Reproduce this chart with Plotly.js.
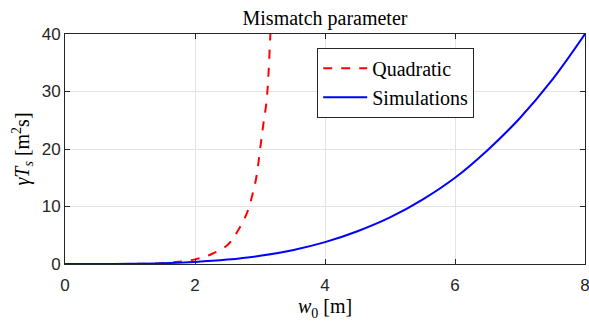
<!DOCTYPE html>
<html><head><meta charset="utf-8">
<script src="https://cdn.plot.ly/plotly-3.0.1.min.js"></script>
<style>html,body{margin:0;padding:0;background:#fff}#c{width:589px;height:322px}</style>
</head><body><div id="c"></div>
<script>
const quadX = [0, 0.5, 1, 1.5, 1.75, 2, 2.25, 2.5, 2.65, 2.8, 2.9, 2.95, 3.0, 3.05, 3.1, 3.13, 3.16, 3.19];
const quadY = [0, 0.002, 0.02, 0.15, 0.38, 0.8, 1.7, 3.3, 5.6, 8.9, 12.8, 15.5, 19.8, 24.2, 28.2, 33, 40, 46];
const simX = [0, 0.5, 1, 1.5, 2, 2.5, 3, 3.5, 4, 4.5, 5, 5.5, 6, 6.5, 7, 7.5, 8];
const simY = [0, 0.003, 0.034, 0.14, 0.36, 0.77, 1.42, 2.4, 3.8, 5.7, 8.1, 11.2, 15.0, 19.8, 25.4, 32.1, 40];
const xTicks = [0, 2, 4, 6, 8];
const yTicks = [0, 10, 20, 30, 40];

const serif = "Liberation Serif, Times New Roman, serif";
const sans = "Liberation Sans, Arial, sans-serif";

const traces = [
  {x: quadX, y: quadY, type: 'scatter', mode: 'lines', name: 'Quadratic',
   line: {color: '#ff0000', width: 2, dash: 'dash', shape: 'spline'}},
  {x: simX, y: simY, type: 'scatter', mode: 'lines', name: 'Simulations',
   line: {color: '#0000ff', width: 2, shape: 'spline'}}
];

const axisCommon = {
  showline: true, linecolor: '#262626', linewidth: 1, mirror: 'ticks',
  ticks: 'inside', ticklen: 5, tickcolor: '#262626',
  showgrid: true, gridcolor: '#e3e3e3', gridwidth: 1, zeroline: false,
  ticklabeloverflow: 'allow',
  tickfont: {family: sans, size: 17, color: '#262626'}
};

const layout = {
  width: 589, height: 322,
  margin: {l: 65, r: 4, t: 34, b: 58},
  paper_bgcolor: '#fff', plot_bgcolor: '#fff',
  title: {text: 'Mismatch parameter', font: {family: serif, size: 20, color: '#000'},
          x: 0.5, xref: 'paper', xanchor: 'center', y: 0.945, yanchor: 'middle'},
  xaxis: Object.assign({}, axisCommon, {range: [0, 8], tickvals: xTicks, ticktext: xTicks.map(String),
    ticklabelstandoff: 6,
    title: {text: '<i>w</i><sub>0</sub> [m]', font: {family: serif, size: 20, color: '#000'}, standoff: 4}}),
  yaxis: Object.assign({}, axisCommon, {range: [0, 40], tickvals: yTicks, ticktext: yTicks.map(String),
    title: {text: '<i>γT<sub>s</sub></i> [m<sup>2</sup>s]', font: {family: serif, size: 20, color: '#000'}, standoff: 6}}),
  legend: {x: 0.485, y: 0.94, xanchor: 'left', yanchor: 'top',
    bgcolor: '#fff', bordercolor: '#262626', borderwidth: 1, itemwidth: 44,
    font: {family: serif, size: 20, color: '#000'}, tracegroupgap: 0},
  showlegend: true
};

Plotly.newPlot('c', traces, layout, {staticPlot: true, displayModeBar: false});
</script></body></html>
